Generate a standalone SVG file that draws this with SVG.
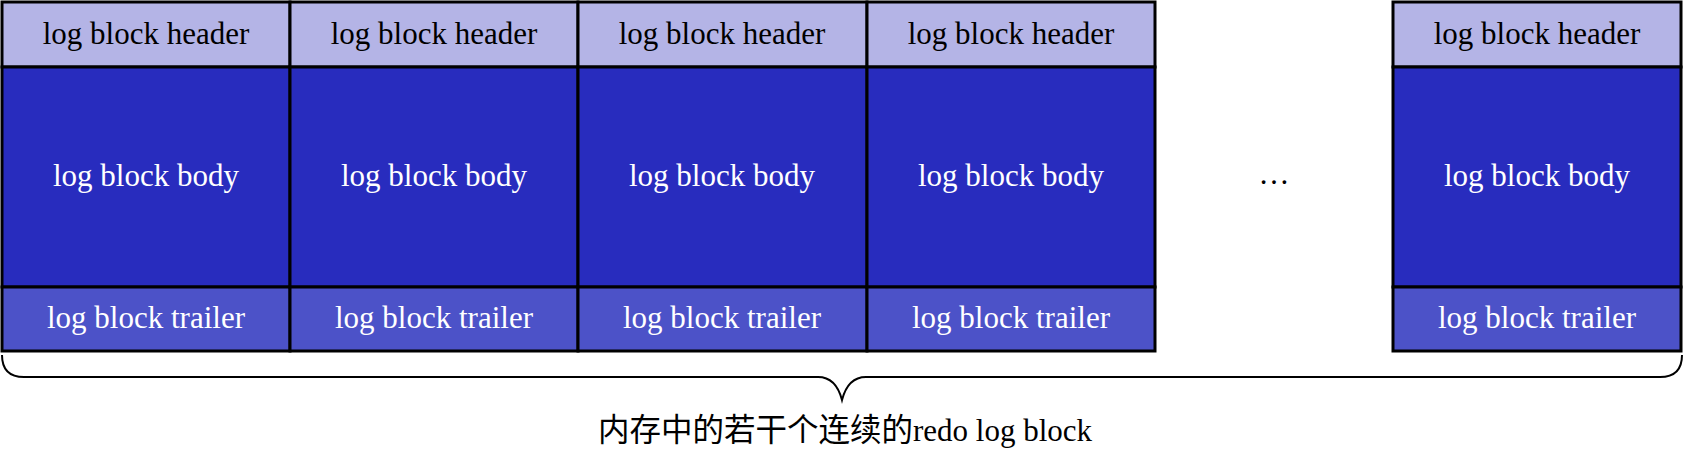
<svg xmlns="http://www.w3.org/2000/svg" width="1684" height="450" viewBox="0 0 1684 450">
<style>
.hd{fill:#B4B4E6;stroke:#000;stroke-width:3}
.bd{fill:#282CBE;stroke:#000;stroke-width:3}
.tr{fill:#4C52C8;stroke:#000;stroke-width:3}
text{font-family:"Liberation Serif","Noto Sans CJK SC",serif;font-size:31px;text-anchor:middle}
.w{fill:#fff}
.k{fill:#000}
.brace{fill:none;stroke:#000;stroke-width:2}
</style>
<rect width="1684" height="450" fill="#fff"/>
<g id="block1">
<rect class="hd" x="2" y="2" width="288" height="65"/>
<rect class="bd" x="2" y="67" width="288" height="220"/>
<rect class="tr" x="2" y="287" width="288" height="64"/>
<text class="k" x="146" y="44">log block header</text>
<text class="w" x="146" y="186">log block body</text>
<text class="w" x="146" y="328">log block trailer</text>
</g>
<g id="block2">
<rect class="hd" x="290" y="2" width="288" height="65"/>
<rect class="bd" x="290" y="67" width="288" height="220"/>
<rect class="tr" x="290" y="287" width="288" height="64"/>
<text class="k" x="434" y="44">log block header</text>
<text class="w" x="434" y="186">log block body</text>
<text class="w" x="434" y="328">log block trailer</text>
</g>
<g id="block3">
<rect class="hd" x="578" y="2" width="289" height="65"/>
<rect class="bd" x="578" y="67" width="289" height="220"/>
<rect class="tr" x="578" y="287" width="289" height="64"/>
<text class="k" x="722" y="44">log block header</text>
<text class="w" x="722" y="186">log block body</text>
<text class="w" x="722" y="328">log block trailer</text>
</g>
<g id="block4">
<rect class="hd" x="867" y="2" width="288" height="65"/>
<rect class="bd" x="867" y="67" width="288" height="220"/>
<rect class="tr" x="867" y="287" width="288" height="64"/>
<text class="k" x="1011" y="44">log block header</text>
<text class="w" x="1011" y="186">log block body</text>
<text class="w" x="1011" y="328">log block trailer</text>
</g>
<g id="ellipsis">
<text class="k" x="1274" y="184">…</text>
</g>
<g id="block5">
<rect class="hd" x="1393" y="2" width="288" height="65"/>
<rect class="bd" x="1393" y="67" width="288" height="220"/>
<rect class="tr" x="1393" y="287" width="288" height="64"/>
<text class="k" x="1537" y="44">log block header</text>
<text class="w" x="1537" y="186">log block body</text>
<text class="w" x="1537" y="328">log block trailer</text>
</g>
<g id="connectors">
<path class="brace" d="M2,355 Q2,377 24,377 L818,377 Q836,377 842,400 Q848,377 866,377 L1660,377 Q1682,377 1682,355"/>
</g>
<g id="caption">
<text class="k" x="845" y="441"><tspan style="font-size:31.5px">内存中的若干个连续的</tspan>redo log block</text>
</g>
</svg>
